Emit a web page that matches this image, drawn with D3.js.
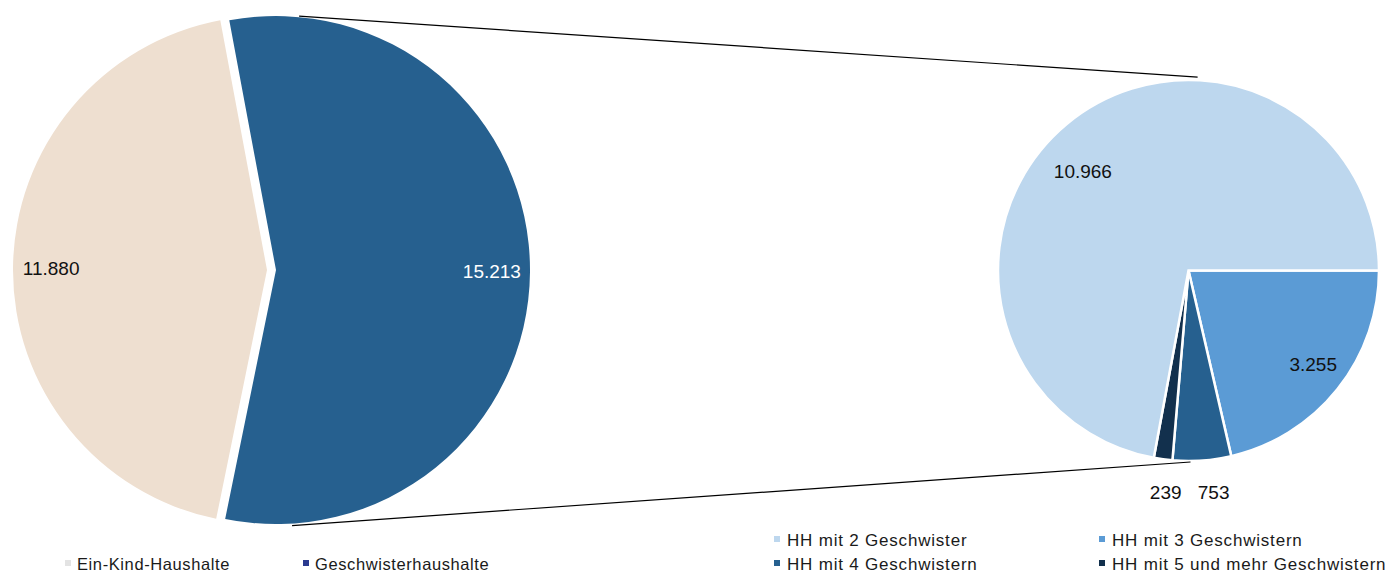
<!DOCTYPE html>
<html><head><meta charset="utf-8">
<script src="https://cdn.jsdelivr.net/npm/d3@7"></script>
<style>body{margin:0;background:#fff;}svg{display:block;font-family:"Liberation Sans",Arial,sans-serif;}</style>
</head><body>
<svg id="c" width="1395" height="574"></svg>
<script>
// Main pie
const mainCategories = ["Geschwisterhaushalte", "Ein-Kind-Haushalte"];
const mainValues = [15213, 11880];
const mainLabels = ["15.213", "11.880"];
const mainColors = ["#26608f", "#eedfd0"];
const mainLegendColors = ["#2b3a8f", "#e3e3e3"];
// Secondary pie (breakdown of Geschwisterhaushalte)
const subCategories = ["HH mit 2 Geschwister", "HH mit 3 Geschwistern", "HH mit 4 Geschwistern", "HH mit 5 und mehr Geschwistern"];
const subValues = [10966, 3255, 753, 239];
const subLabels = ["10.966", "3.255", "753", "239"];
const subColors = ["#bdd7ee", "#5b9bd5", "#26608f", "#12304d"];

const svg = d3.select("#c");
const deg = Math.PI / 180;

// ---- main pie ----
const mC = {x: 271.5, y: 270}, mR = 254, explode = 4.5;
const mainPie = d3.pie().sort(null).startAngle(-10.6 * deg).endAngle(-10.6 * deg + 2 * Math.PI);
const mainArcs = mainPie(mainValues);
const mainArc = d3.arc().innerRadius(0).outerRadius(mR);
const mainLabelArc = d3.arc().innerRadius(mR * 0.85).outerRadius(mR * 0.85);
const gMain = svg.append("g").attr("transform", `translate(${mC.x},${mC.y})`);
mainArcs.forEach((a, i) => {
  const mid = (a.startAngle + a.endAngle) / 2;
  const dx = Math.sin(mid) * explode, dy = -Math.cos(mid) * explode;
  const g = gMain.append("g").attr("transform", `translate(${dx},${dy})`);
  g.append("path").attr("d", mainArc(a)).attr("fill", mainColors[i]);
  const c = mainLabelArc.centroid(a);
  g.append("text").attr("x", c[0]).attr("y", c[1]).attr("dy", "0.35em")
    .attr("text-anchor", "middle").attr("font-size", 19)
    .attr("fill", i === 0 ? "#fff" : "#111").text(mainLabels[i]);
});

// ---- secondary pie ----
const sC = {x: 1188.5, y: 270.5}, sR = 190.5;
const order = [1, 2, 3, 0]; // drawing order clockwise from 3 o'clock
const subPie = d3.pie().sort(null).startAngle(90 * deg).endAngle(90 * deg + 2 * Math.PI);
const subArcsOrdered = subPie(order.map(i => subValues[i]));
const subArc = d3.arc().innerRadius(0).outerRadius(sR);
const gSub = svg.append("g").attr("transform", `translate(${sC.x},${sC.y})`);
subArcsOrdered.forEach((a, k) => {
  const i = order[k];
  gSub.append("path").attr("d", subArc(a)).attr("fill", subColors[i])
    .attr("stroke", "#fff").attr("stroke-width", 2.5).attr("stroke-linejoin", "miter");
});
// label placement: radius and angular nudge (degrees) per category
const labelRadius = [145, 156, 223, 223];
const labelNudge = [-7, -1.6, -2.4, -1.8];
subArcsOrdered.forEach((a, k) => {
  const i = order[k];
  const ang = (a.startAngle + a.endAngle) / 2 + labelNudge[i] * deg;
  const r = labelRadius[i];
  gSub.append("text").attr("x", Math.sin(ang) * r).attr("y", -Math.cos(ang) * r).attr("dy", "0.35em")
    .attr("text-anchor", "middle").attr("font-size", 19).attr("fill", "#111").text(subLabels[i]);
});

// ---- connector lines ----
const blueMid = (mainArcs[0].startAngle + mainArcs[0].endAngle) / 2;
const bC = {x: mC.x + Math.sin(blueMid) * explode, y: mC.y - Math.cos(blueMid) * explode};
function pt(c, r, ang) { return [c.x + Math.sin(ang * deg) * r, c.y - Math.cos(ang * deg) * r]; }
const lines = [[pt(bC, mR + 1, 5.2), pt(sC, sR + 3, 2.7)], [pt(bC, mR + 2, 176.4), pt(sC, sR + 1, 179.4)]];
lines.forEach(l => svg.append("line").attr("x1", l[0][0]).attr("y1", l[0][1]).attr("x2", l[1][0]).attr("y2", l[1][1])
  .attr("stroke", "#000").attr("stroke-width", 1.2));

// ---- legends ----
const mainLeg = [{i: 1, x: 66}, {i: 0, x: 304}];
mainLeg.forEach(d => {
  svg.append("rect").attr("x", d.x - 1).attr("y", 560).attr("width", 6).attr("height", 6).attr("fill", mainLegendColors[d.i]);
  svg.append("text").attr("x", d.x + 11).attr("y", 564).attr("dy", "0.35em").attr("font-size", 16.5)
    .attr("letter-spacing", 0.6).attr("fill", "#1a1a1a").text(mainCategories[d.i]);
});
const subLegPos = [{x: 775, y: 540}, {x: 1100, y: 540}, {x: 775, y: 564}, {x: 1100, y: 564}];
subCategories.forEach((name, i) => {
  const p = subLegPos[i];
  svg.append("rect").attr("x", p.x - 1).attr("y", p.y - 4).attr("width", 6).attr("height", 6).attr("fill", subColors[i]);
  svg.append("text").attr("x", p.x + 12).attr("y", p.y).attr("dy", "0.35em").attr("font-size", 17)
    .attr("letter-spacing", 0.8).attr("fill", "#1a1a1a").text(name);
});
</script>
</body></html>
